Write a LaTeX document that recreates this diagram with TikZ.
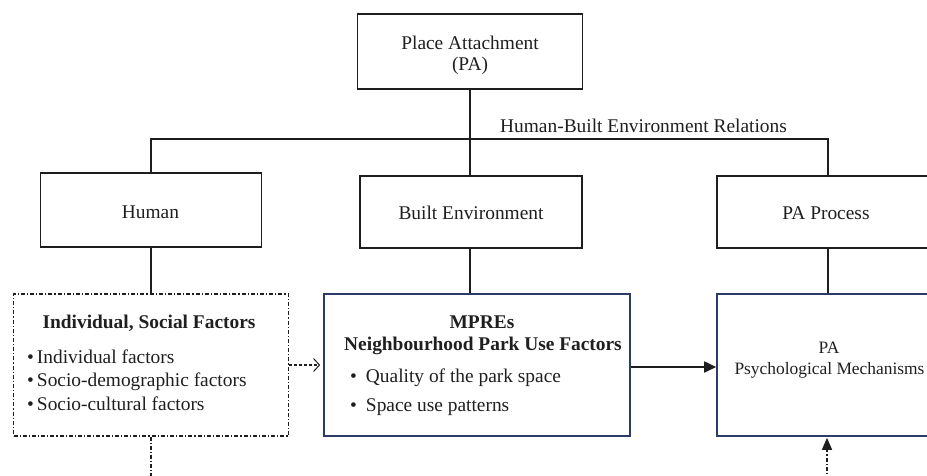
\documentclass[tikz,border=0pt]{standalone}
\usepackage{fontspec}
\setmainfont{Liberation Serif}
\usetikzlibrary{arrows.meta}
\definecolor{navy}{RGB}{44,60,104}
\definecolor{lin}{RGB}{30,30,30}
\begin{document}
\begin{tikzpicture}[x=1pt,y=-1pt,
  font=\fontsize{19.4}{22}\selectfont,
  plainbox/.style={draw=lin, line width=1.6pt, inner sep=0pt},
  bluebox/.style={draw=navy, line width=1.6pt, inner sep=0pt},
  dotbox/.style={draw=lin, line width=1.2pt, inner sep=0pt, dash pattern=on 4pt off 2pt on 1.2pt off 2pt},
  txt/.style={inner sep=0pt, text=black!88},
  conn/.style={draw=lin, line width=1.8pt},
  dashdotline/.style={draw=lin, line width=1.3pt, dash pattern=on 4pt off 2pt on 1.2pt off 2pt}]
\useasboundingbox (0,0) rectangle (927,475);
\clip (0,0) rectangle (927,475);

% top box
\node[plainbox, minimum width=225, minimum height=75] (pa) at (470,51.5) {};
\node[txt, anchor=base] (pat1) at (470,49) {Place Attachment};
\node[txt, anchor=base] (pat2) at (470,70) {(PA)};

\coordinate (bar) at (470,139);
\node[txt, anchor=base] (rel) at (643.5,132) {Human-Built Environment Relations};

% middle boxes
\node[plainbox, minimum width=221, minimum height=74] (hum) at (151,210) {};
\node[txt, anchor=base] (humt) at (150.5,218) {Human};
\node[plainbox, minimum width=222, minimum height=72] (be) at (471,212) {};
\node[txt, anchor=base] (bet) at (471,219) {Built Environment};
\node[plainbox, minimum width=222, minimum height=72] (ppr) at (828,212) {};
\node[txt, anchor=base] (pprt) at (826,219) {PA Process};

\draw[conn] (pa.south) -- (pa.south |- be.north);
\draw[conn] (hum.north) -- (hum.north |- bar) -- (ppr.north |- bar) -- (ppr.north);

% lower boxes
\node[dotbox, minimum width=275, minimum height=142] (isf) at (151,365) {};
\node[txt, anchor=base, font=\fontsize{19.4}{22}\selectfont\bfseries] (isft) at (149,328) {Individual, Social Factors};
\node[txt, anchor=base west] (isf1) at (27,363) {•\hspace{3pt}Individual factors};
\node[txt, anchor=base west] (isf2) at (27,386.5) {•\hspace{3pt}Socio-demographic factors};
\node[txt, anchor=base west] (isf3) at (27,410) {•\hspace{3pt}Socio-cultural factors};

\node[bluebox, minimum width=306, minimum height=142] (mp) at (477,365) {};
\node[txt, anchor=base, font=\fontsize{19.4}{22}\selectfont\bfseries] (mpt1) at (482,328) {MPREs};
\node[txt, anchor=base, font=\fontsize{19.4}{22}\selectfont\bfseries] (mpt2) at (483,350) {Neighbourhood Park Use Factors};
\node[txt, anchor=base west] (mp1) at (350,382) {•\hspace{9pt}Quality of the park space};
\node[txt, anchor=base west] (mp2) at (350,411) {•\hspace{9pt}Space use patterns};

\node[bluebox, minimum width=222, minimum height=142] (pap) at (828,365) {};
\node[txt, anchor=base, font=\fontsize{17.4}{20}\selectfont] (papt1) at (829,353) {PA};
\node[txt, anchor=base, font=\fontsize{17.4}{20}\selectfont] (papt2) at (829.5,374) {Psychological Mechanisms};

\draw[conn] (hum.south) -- (isf.north);
\draw[conn] (pa.south |- be.south) -- (pa.south |- mp.north);
\draw[conn] (ppr.south) -- (pap.north);

% arrows
\draw[draw=lin, line width=1.2pt, dash pattern=on 3pt off 2pt, shorten >=3pt,
  -{Straight Barb[length=6pt,width=13pt,line width=1pt]}] (isf.east) -- (mp.west);
\draw[conn, -{Triangle[length=12pt,width=11pt]}] ([yshift=-2]mp.east) -- ([yshift=-2]pap.west);

\coordinate (bot1) at (151,480);
\coordinate (bot2) at (827,480);
\draw[dashdotline] (isf.south) -- (bot1);
\draw[dashdotline, -{Triangle[length=12pt,width=10pt]}, shorten >=1pt] (bot2) -- (bot2 |- pap.south);
\end{tikzpicture}
\end{document}
